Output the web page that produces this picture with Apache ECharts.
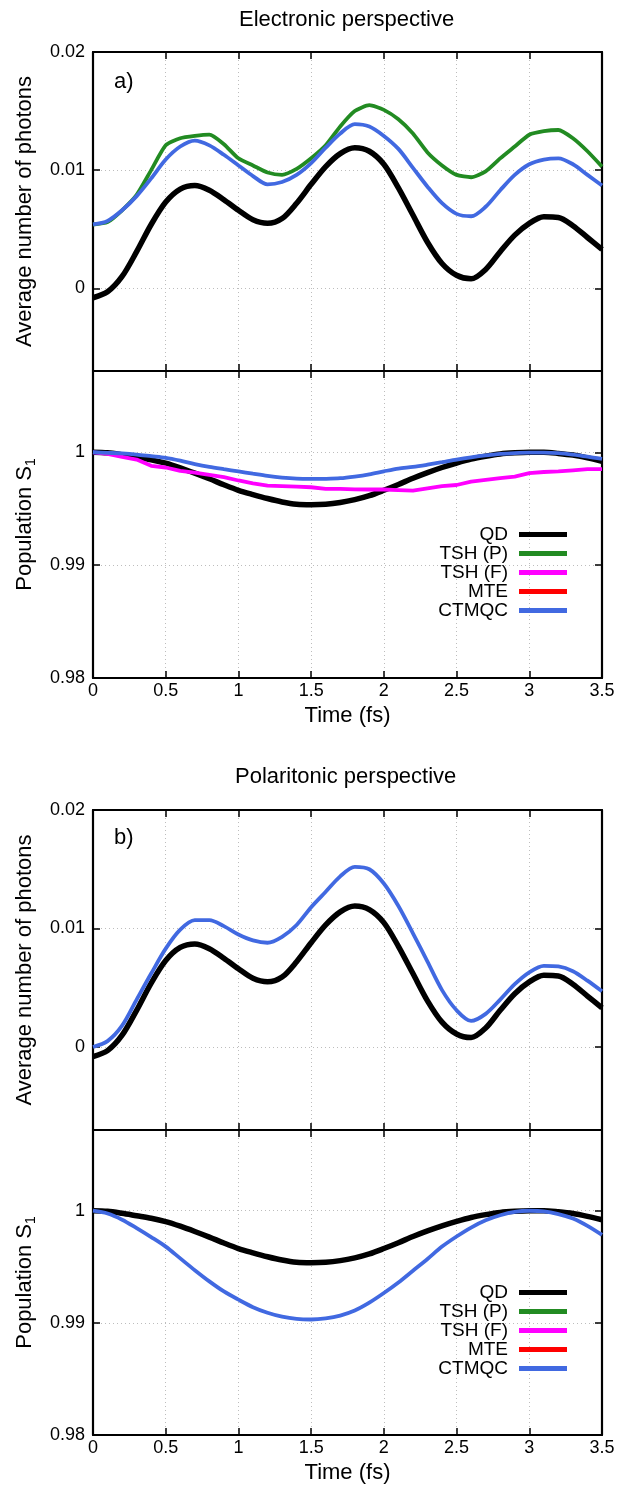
<!DOCTYPE html>
<html>
<head>
<meta charset="utf-8">
<script src="https://cdn.jsdelivr.net/npm/echarts@6/dist/echarts.min.js"></script>
<style>
  html, body { margin: 0; padding: 0; background: #fff; }
  #chart { width: 626px; height: 1485px; }
</style>
</head>
<body>
<div id="chart"></div>
<script>
// time axis (fs)
var time = [0, 0.1, 0.2, 0.3, 0.4, 0.5, 0.6, 0.7, 0.8, 0.9, 1.0, 1.1, 1.2, 1.3, 1.4, 1.5, 1.6, 1.7,
  1.8, 1.9, 2.0, 2.1, 2.2, 2.3, 2.4, 2.5, 2.6, 2.7, 2.8, 2.9, 3.0, 3.1, 3.2, 3.3, 3.4, 3.5];

// average number of photons
var qdPhotons = [-0.0008, -0.0003, 0.0010, 0.0031, 0.0054, 0.0073, 0.0084, 0.0087, 0.0083, 0.0075,
  0.0066, 0.0058, 0.0055, 0.0059, 0.0072, 0.0088, 0.0103, 0.0114, 0.0119, 0.0116,
  0.0105, 0.0085, 0.0062, 0.0039, 0.0021, 0.0011, 0.0008, 0.0016, 0.0031, 0.0045,
  0.0055, 0.00605, 0.0060, 0.0053, 0.0043, 0.0033];
var tshPPhotonsElec = [0.0054, 0.0056, 0.0066, 0.0079, 0.0100, 0.0121, 0.0127, 0.0129, 0.0130, 0.0122,
  0.0110, 0.0104, 0.0098, 0.0096, 0.0101, 0.0110, 0.0121, 0.0137, 0.0150, 0.0155,
  0.0151, 0.0143, 0.0131, 0.0115, 0.0104, 0.0096, 0.0094, 0.0099, 0.0110, 0.0120,
  0.0130, 0.0133, 0.0134, 0.0127, 0.0116, 0.0103];
var ctmqcPhotonsElec = [0.0054, 0.0057, 0.0066, 0.0078, 0.0093, 0.0109, 0.0120, 0.0125, 0.0121, 0.0113,
  0.0104, 0.0095, 0.0088, 0.0090, 0.0096, 0.0106, 0.0119, 0.0131, 0.0139, 0.0137,
  0.0129, 0.0118, 0.0102, 0.0086, 0.0072, 0.0063, 0.0061, 0.0069, 0.0083, 0.0096,
  0.0105, 0.0109, 0.0110, 0.0105, 0.0096, 0.0087];
var ctmqcPhotonsPol = [0.0000, 0.0005, 0.0018, 0.0040, 0.0062, 0.0083, 0.0099, 0.0107, 0.0107, 0.0102,
  0.0095, 0.0090, 0.0088, 0.0093, 0.0103, 0.0118, 0.0131, 0.0144, 0.0152, 0.0150,
  0.0138, 0.0119, 0.0096, 0.0072, 0.0048, 0.0031, 0.0022, 0.0028, 0.0040, 0.0053,
  0.0063, 0.00685, 0.0068, 0.0064, 0.0056, 0.0047];

// population of S1
var qdPop = [1.00000, 0.99995, 0.99977, 0.99955, 0.99933, 0.99903, 0.99862, 0.99815, 0.99765, 0.99712,
  0.99663, 0.99625, 0.99590, 0.99560, 0.99540, 0.99536, 0.99540, 0.99555, 0.99580, 0.99615,
  0.99663, 0.99715, 0.99770, 0.99820, 0.99865, 0.99905, 0.99940, 0.99965, 0.99985, 0.99995,
  1.00000, 1.00000, 0.99990, 0.99975, 0.99950, 0.99920];
var tshFPopElec = [1.00000, 0.99985, 0.99960, 0.99935, 0.99880, 0.99865, 0.99835, 0.99820, 0.99800, 0.99780,
  0.99750, 0.99725, 0.99705, 0.99700, 0.99695, 0.99690, 0.99675, 0.99675, 0.99672, 0.99670,
  0.99670, 0.99665, 0.99660, 0.99680, 0.99700, 0.99710, 0.99740, 0.99755, 0.99770, 0.99785,
  0.99815, 0.99825, 0.99830, 0.99840, 0.99850, 0.99850];
var ctmqcPopElec = [1.00000, 0.99995, 0.99990, 0.99980, 0.99965, 0.99950, 0.99925, 0.99895, 0.99870, 0.99850,
  0.99831, 0.99810, 0.99790, 0.99775, 0.99766, 0.99764, 0.99765, 0.99770, 0.99785, 0.99805,
  0.99831, 0.99855, 0.99870, 0.99890, 0.99912, 0.99935, 0.99955, 0.99972, 0.99985, 0.99993,
  0.99997, 0.99997, 0.99993, 0.99980, 0.99962, 0.99941];
var ctmqcPopPol = [1.00000, 0.99975, 0.99920, 0.99845, 0.99765, 0.99680, 0.99575, 0.99470, 0.99370, 0.99280,
  0.99207, 0.99140, 0.99090, 0.99055, 0.99035, 0.99030, 0.99040, 0.99065, 0.99110, 0.99180,
  0.99266, 0.99360, 0.99465, 0.99570, 0.99680, 0.99770, 0.99850, 0.99915, 0.99960, 0.99990,
  1.00000, 0.99995, 0.99970, 0.99930, 0.99865, 0.99784];

var methods = ['QD', 'TSH (P)', 'TSH (F)', 'MTE', 'CTMQC'];
var photonTicks = [0, 0.01, 0.02];
var popTicks = [0.98, 0.99, 1];

var font = 'Liberation Sans, Arial, Helvetica, sans-serif';
var colors = {'QD': '#000000', 'TSH (P)': '#228b22', 'TSH (F)': '#ff00ff', 'MTE': '#ff0000', 'CTMQC': '#4169e1'};

function zip(xs, ys) {
  return xs.map(function (x, i) { return [x, ys[i]]; });
}

function line(name, grid, ys, smooth) {
  return {
    type: 'line',
    name: name,
    xAxisIndex: grid,
    yAxisIndex: grid,
    data: ys ? zip(time, ys) : [],
    showSymbol: false,
    smooth: smooth === undefined ? 0.3 : smooth,
    color: colors[name],
    lineStyle: {width: name === 'QD' ? 5.5 : 3.8, color: colors[name]},
    emphasis: {disabled: true},
    z: 2 + methods.indexOf(name)
  };
}

var grids = [
  {left: 93, right: 24, top: 52, height: 319},
  {left: 93, right: 24, top: 371, height: 307},
  {left: 93, right: 24, top: 810, height: 320},
  {left: 93, right: 24, top: 1130, height: 306}
];

var xAxes = [], yAxes = [];
var border = {show: true, onZero: false, lineStyle: {color: '#000', width: 2.2}};
var tick = {show: true, inside: true, length: 7, lineStyle: {color: '#000', width: 1.5}};
var dotted = {show: true, lineStyle: {color: '#bdbdbd', width: 1, type: [1, 3]}};

for (let i = 0; i < 4; i++) {
  let isPop = (i % 2 === 1);
  xAxes.push({
    type: 'value', gridIndex: i, min: 0, max: 3.5, interval: 0.5,
    axisLine: border, axisTick: tick, splitLine: dotted,
    axisLabel: {show: isPop, color: '#000', fontSize: 18, fontFamily: font, margin: 4,
      showMinLabel: true, showMaxLabel: true},
    name: isPop ? 'Time (fs)' : '', nameLocation: 'middle', nameGap: 27,
    nameTextStyle: {color: '#000', fontSize: 22, fontFamily: font}
  });
  let ticks = isPop ? popTicks : photonTicks;
  yAxes.push({
    type: 'value', gridIndex: i,
    min: isPop ? 0.98 : -0.007, max: isPop ? 1.0072 : 0.02,
    axisLine: border,
    axisTick: Object.assign({}, tick, {customValues: ticks}),
    axisLabel: {color: '#000', fontSize: 18, fontFamily: font, margin: 8, customValues: ticks},
    splitLine: dotted,
    name: isPop ? '{a|Population S}{s|1}' : 'Average number of photons',
    nameLocation: 'middle', nameGap: 57,
    nameTextStyle: {color: '#000', fontSize: 22, fontFamily: font,
      rich: {
        a: {fontSize: 22, fontFamily: font, color: '#000', verticalAlign: 'top', lineHeight: 22},
        s: {fontSize: 14, fontFamily: font, color: '#000', verticalAlign: 'top', lineHeight: 14, padding: [10, 0, 0, 0]}
      }}
  });
}
// mirrored ticks on top and right edges
for (let i = 0; i < 4; i++) {
  let isPop = (i % 2 === 1);
  xAxes.push({
    type: 'value', gridIndex: i, position: 'top', min: 0, max: 3.5, interval: 0.5,
    axisLine: border, axisTick: tick, axisLabel: {show: false}, splitLine: {show: false}
  });
  yAxes.push({
    type: 'value', gridIndex: i, position: 'right',
    min: isPop ? 0.98 : -0.007, max: isPop ? 1.0072 : 0.02,
    axisLine: border,
    axisTick: Object.assign({}, tick, {customValues: isPop ? popTicks : photonTicks}),
    axisLabel: {show: false}, splitLine: {show: false}
  });
}

var series = [
  // a) electronic perspective, photons
  line('QD', 0, qdPhotons),
  line('TSH (P)', 0, tshPPhotonsElec, 0.2),
  line('CTMQC', 0, ctmqcPhotonsElec),
  // electronic perspective, population
  line('QD', 1, qdPop),
  line('TSH (P)', 1, null),
  line('TSH (F)', 1, tshFPopElec, false),
  line('MTE', 1, null),
  line('CTMQC', 1, ctmqcPopElec),
  // b) polaritonic perspective, photons
  line('QD', 2, qdPhotons),
  line('CTMQC', 2, ctmqcPhotonsPol),
  // polaritonic perspective, population
  line('QD', 3, qdPop),
  line('MTE', 3, null),
  line('CTMQC', 3, ctmqcPopPol)
];

function legend(top) {
  return {
    orient: 'vertical', align: 'right', right: 54, top: top,
    itemWidth: 48, itemHeight: 5, itemGap: 0, icon: 'rect',
    selectedMode: false,
    textStyle: {color: '#000', fontSize: 19, lineHeight: 19, fontFamily: font, padding: [0, 6, 0, 0]},
    data: methods
  };
}

var titleStyle = {color: '#000', fontSize: 22, fontWeight: 'normal', fontFamily: font};

var chart = echarts.init(document.getElementById('chart'), null, {renderer: 'canvas'});
chart.setOption({
  backgroundColor: '#fff',
  animation: false,
  title: [
    {text: 'Electronic perspective', left: 234, top: 4, textStyle: titleStyle},
    {text: 'Polaritonic perspective', left: 230, top: 761, textStyle: titleStyle},
    {text: 'a)', left: 109, top: 66, textStyle: titleStyle},
    {text: 'b)', left: 109, top: 822, textStyle: titleStyle}
  ],
  legend: [legend(520), legend(1278)],
  grid: grids,
  xAxis: xAxes,
  yAxis: yAxes,
  series: series
});
</script>
</body>
</html>
